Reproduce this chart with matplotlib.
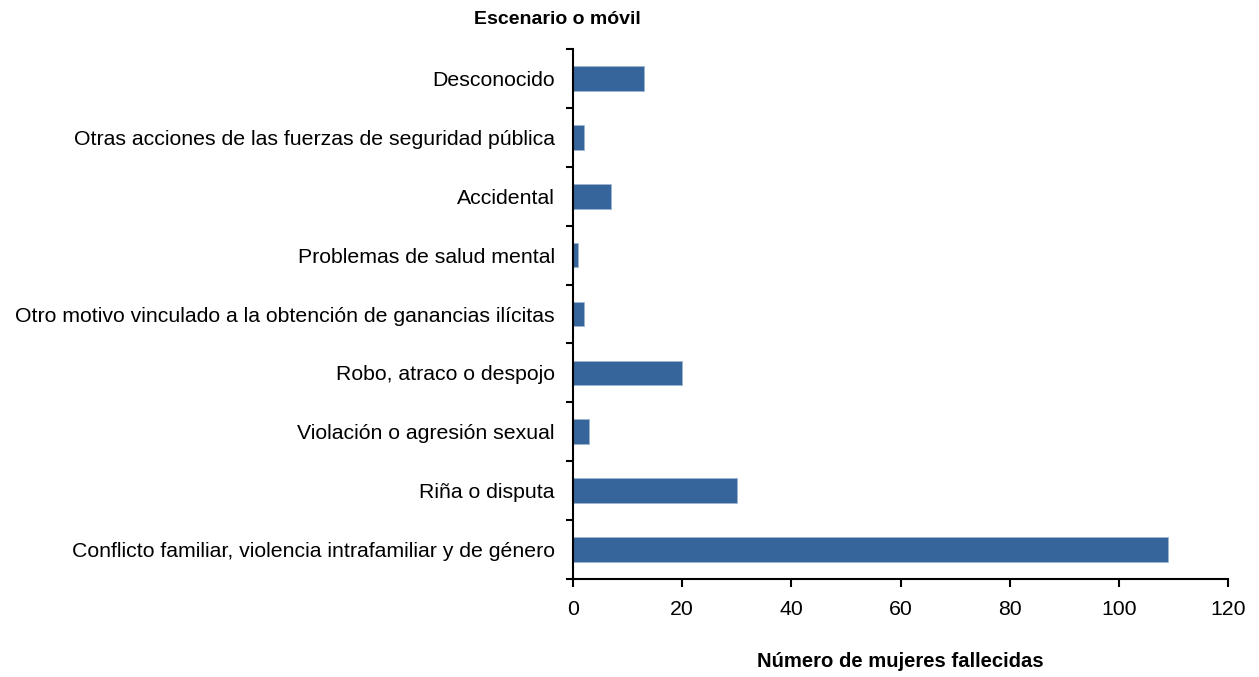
import numpy as np
import matplotlib.pyplot as plt

plt.rcParams['font.family'] = ['Liberation Sans', 'DejaVu Sans']

categories = [
    "Conflicto familiar, violencia intrafamiliar y de género",
    "Riña o disputa",
    "Violación o agresión sexual",
    "Robo, atraco o despojo",
    "Otro motivo vinculado a la obtención de ganancias ilícitas",
    "Problemas de salud mental",
    "Accidental",
    "Otras acciones de las fuerzas de seguridad pública",
    "Desconocido",
]
values = [109, 30, 3, 20, 2, 1, 7, 2, 13]
x_ticks = [0, 20, 40, 60, 80, 100, 120]

fig = plt.figure(figsize=(12.59, 6.77), dpi=100)
ax = fig.add_axes([573 / 1259, 1 - 579 / 677, 655 / 1259, 530 / 677])

pos = np.arange(len(categories))
ax.barh(pos, values, height=0.42, color='#35659a', edgecolor='#9fb6d0', linewidth=0.6)

ax.set_xlim(0, 120)
ax.set_ylim(-0.5, len(categories) - 0.5)
ax.set_xticks(x_ticks)
ax.set_xticklabels([str(t) for t in x_ticks], fontsize=15.3)

ax.set_yticks(np.arange(len(categories) + 1) - 0.5)
ax.set_yticklabels([])
ax.set_yticks(pos, minor=True)
ax.set_yticklabels(categories, minor=True, fontsize=15.3)
ax.tick_params(axis='y', which='major', length=5, width=1.5, direction='out')
ax.tick_params(axis='y', which='minor', length=0, pad=13)
ax.tick_params(axis='x', length=6, width=1.5, direction='out', pad=9)

for s in ['top', 'right']:
    ax.spines[s].set_visible(False)
for s in ['left', 'bottom']:
    ax.spines[s].set_linewidth(1.5)

ax.set_xlabel("Número de mujeres fallecidas", fontsize=14.6, fontweight='bold', labelpad=24)
fig.text(557 / 1259, 1 - 19 / 677, "Escenario o móvil", fontsize=14, fontweight='bold',
         ha='center', va='center')

fig.savefig('out.png', dpi=100)
